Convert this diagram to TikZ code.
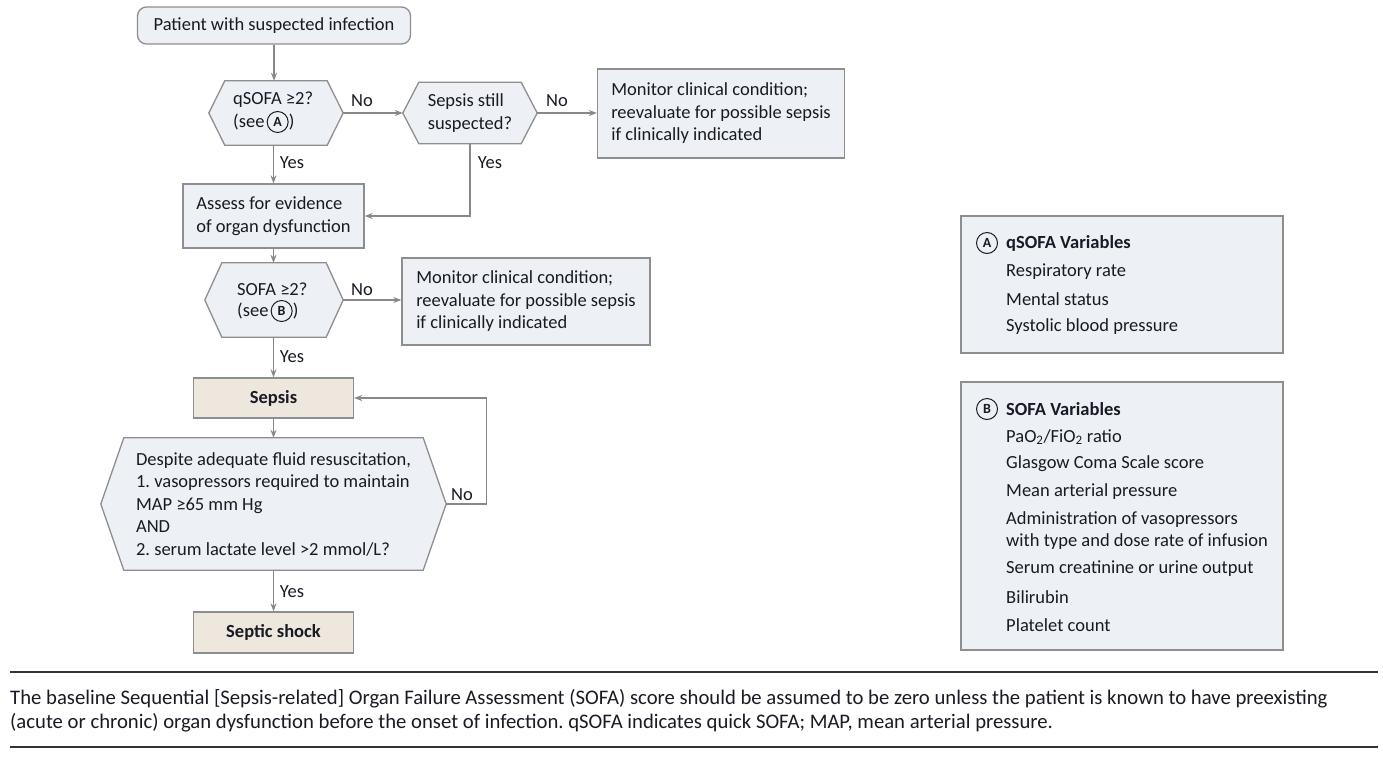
\documentclass[tikz,border=0pt]{standalone}
\usepackage{fontspec}
\setmainfont{Carlito}
\usetikzlibrary{arrows.meta,backgrounds,calc}
\definecolor{boxfill}{HTML}{EDF1F5}
\definecolor{beige}{HTML}{EEE7DD}
\definecolor{edge}{HTML}{8E8E8E}
\definecolor{txt}{HTML}{1A1A26}
\definecolor{arr}{HTML}{888888}
\newcommand\mainf{\fontsize{18.5}{22.5}\selectfont}
\newcommand\hexdraw[2]{\draw[hexline] (#1.west) -- ([xshift=#2]#1.north west) -- ([xshift=-#2]#1.north east) -- (#1.east) -- ([xshift=-#2]#1.south east) -- ([xshift=#2]#1.south west) -- cycle;}
\frenchspacing
\begin{document}
\begin{tikzpicture}[x=1pt,y=-1pt,
  box/.style={draw=edge,fill=boxfill,line width=1.3pt,inner sep=0pt,text=txt,font=\mainf},
  txtbox/.style={box,align=left},
  beigebox/.style={box,fill=beige,font=\mainf\bfseries,minimum width=160pt},
  hexnode/.style={inner sep=0pt,text=txt,font=\mainf,align=left},
  hexline/.style={draw=edge,fill=boxfill,line width=1.3pt},
  lbl/.style={text=txt,font=\mainf,inner sep=0pt},
  item/.style={text=txt,font=\mainf,inner sep=0pt,anchor=west,align=left},
  circlab/.style={draw=txt,line width=1pt,circle,inner sep=0pt,minimum size=21pt,font=\fontsize{14}{14}\selectfont\bfseries,text=txt},
  conn/.style={draw=arr,line width=1.2pt,-{Stealth[length=8pt,width=6pt]}},
  rule/.style={draw=black!80,line width=1.5pt}]
\useasboundingbox (0,0) rectangle (1383,761);

% flow nodes
\node[box,rounded corners=9pt,minimum width=273pt,minimum height=37pt] (start) at (274,25.5) {Patient with suspected infection};
\node[hexnode,minimum width=134pt,minimum height=64pt] (q1) at (276,113) {};
\node[hexnode,minimum width=134pt,minimum height=61pt] (q2) at (470,113) {Sepsis still\\suspected?};
\node[txtbox,minimum width=247pt,minimum height=89pt] (mon1) at (721,113.5) {Monitor clinical condition;\\reevaluate for possible sepsis\\if clinically indicated};
\node[txtbox,minimum width=181pt,minimum height=64pt] (assess) at (273.5,216) {Assess for evidence\\of organ dysfunction};
\node[hexnode,minimum width=138pt,minimum height=74pt] (q3) at (274,300) {};
\node[txtbox,minimum width=248pt,minimum height=87pt] (mon2) at (526,301.5) {Monitor clinical condition;\\reevaluate for possible sepsis\\if clinically indicated};
\node[beigebox,minimum height=40pt] (sepsis) at (273.5,398) {Sepsis};
\node[hexnode,minimum width=345pt,minimum height=132pt] (q4) at (273.5,504) {Despite adequate fluid resuscitation,\\1. vasopressors required to maintain\\MAP ≥65 mm Hg\\AND\\2. serum lactate level >2 mmol/L?};
\node[beigebox,minimum height=41pt] (shock) at (273.5,632.5) {Septic shock};

\begin{scope}[on background layer]
  \fill[white] (0,0) rectangle (1383,761);
  \hexdraw{q1}{16}
  \hexdraw{q2}{16}
  \hexdraw{q3}{17}
  \hexdraw{q4}{23}
\end{scope}

% hexagon texts with circled letters
\node[item] (q1a) at (233,100) {qSOFA ≥2?};
\node[item] (q1b) at (233,122) {(see};
\node[circlab,anchor=west,xshift=2pt] (q1c) at (q1b.east) {A};
\node[item,anchor=west] (q1d) at (q1c.east) {)};
\node[item] (q3a) at (237,289) {SOFA ≥2?};
\node[item] (q3b) at (237,311) {(see};
\node[circlab,anchor=west,xshift=2pt] (q3c) at (q3b.east) {B};
\node[item,anchor=west] (q3d) at (q3c.east) {)};

% connectors
\draw[conn] (start.south) -- (start.south |- q1.north);
\draw[conn] (q1.east) -- (q2.west);
\draw[conn] (q2.east) -- (q2.east -| mon1.west);
\draw[conn] (q1.south -| assess.north) -- (assess.north);
\draw[conn] (q2.south) |- (assess.east);
\draw[conn] (assess.south) -- (assess.south |- q3.north);
\draw[conn] (q3.east) -- (q3.east -| mon2.west);
\draw[conn] (q3.south -| sepsis.north) -- (sepsis.north);
\draw[conn] (sepsis.south) -- (sepsis.south |- q4.north);
\draw[conn] (q4.east) -- ++(40,0) |- (sepsis.east);
\draw[conn] (q4.south -| shock.north) -- (shock.north);

% connector labels
\node[lbl] (n1) at (362,101) {No};
\node[lbl] (n2) at (557,101) {No};
\node[lbl] (y1) at (292,163) {Yes};
\node[lbl] (y2) at (490,163) {Yes};
\node[lbl] (n3) at (362,290) {No};
\node[lbl] (y3) at (292,357) {Yes};
\node[lbl] (n4) at (462,495) {No};
\node[lbl] (y4) at (292,592) {Yes};

% right boxes
\node[box,minimum width=322pt,minimum height=137pt] (qbox) at (1122,284.5) {};
\node[circlab] (ca) at (987,243) {A};
\node[item,font=\mainf\bfseries] (qt) at (1006,243) {qSOFA Variables};
\node[item] (qa1) at (1006,272) {Respiratory rate};
\node[item] (qa2) at (1006,299) {Mental status};
\node[item] (qa3) at (1006,327) {Systolic blood pressure};

\node[box,minimum width=322pt,minimum height=268pt] (sbox) at (1122,516) {};
\node[circlab] (cb) at (987,409) {B};
\node[item,font=\mainf\bfseries] (st) at (1006,409) {SOFA Variables};
\node[item] (sb1) at (1006,437) {PaO\textsubscript{2}/FiO\textsubscript{2} ratio};
\node[item] (sb2) at (1006,464) {Glasgow Coma Scale score};
\node[item] (sb3) at (1006,492) {Mean arterial pressure};
\node[item] (sb4) at (1006,530.5) {Administration of vasopressors\\with type and dose rate of infusion};
\node[item] (sb5) at (1006,569) {Serum creatinine or urine output};
\node[item] (sb6) at (1006,597) {Bilirubin};
\node[item] (sb7) at (1006,625) {Platelet count};

% footnote
\draw[rule] (10,672) -- (1378,672);
\draw[rule] (10,747) -- (1378,747);
\node[anchor=north west,inner sep=0pt,align=left,text=txt,font=\fontsize{20.7}{24}\selectfont] (note) at (10,689) {The baseline Sequential [Sepsis-related] Organ Failure Assessment (SOFA) score should be assumed to be zero unless the patient is known to have preexisting\\(acute or chronic) organ dysfunction before the onset of infection. qSOFA indicates quick SOFA; MAP, mean arterial pressure.};
\end{tikzpicture}
\end{document}
